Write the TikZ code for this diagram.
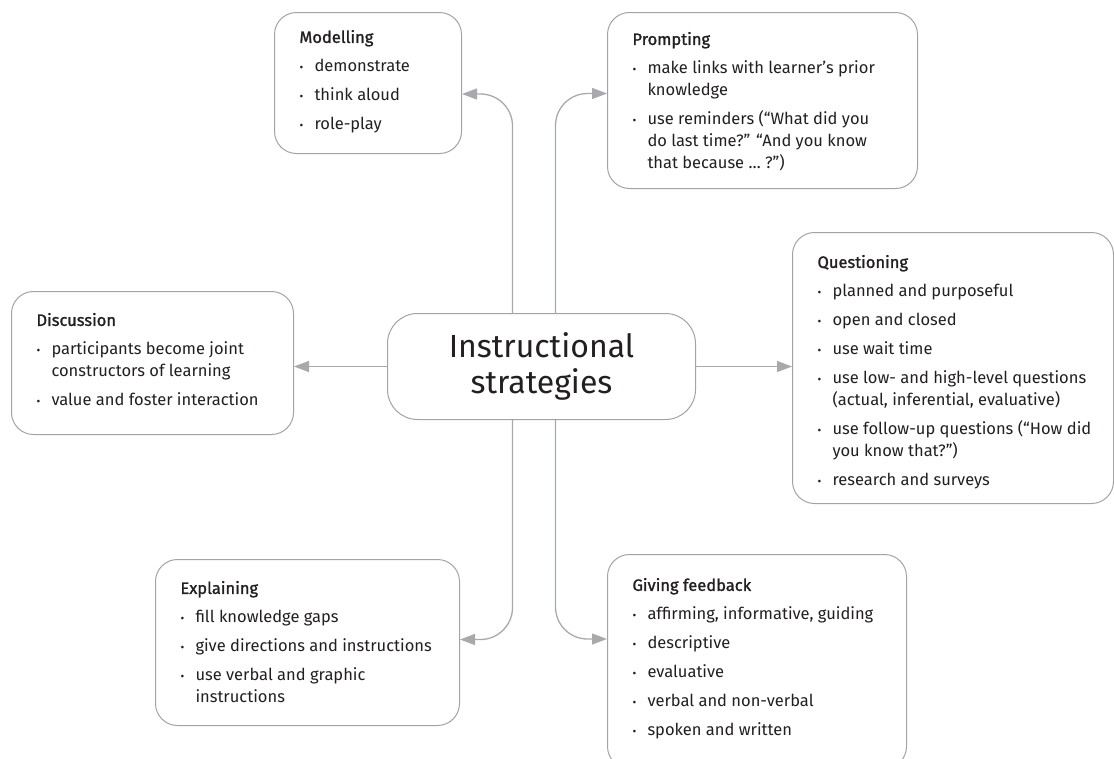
\documentclass[tikz,border=0pt]{standalone}
\usepackage{fontspec}
\setmainfont{Fira Sans}
\newfontfamily\headfont{Fira Sans}[FakeBold=1.3]
\usetikzlibrary{arrows.meta}

\definecolor{linegray}{HTML}{A7A9AC}
\definecolor{boxgray}{HTML}{A3A3A3}
\definecolor{ink}{HTML}{231F20}

\newcommand{\itm}{\par\hangindent=15pt\hangafter=1\makebox[15pt][l]{\raisebox{0.6pt}{\scalebox{0.7}{\textbullet}}}}
\newcommand{\cardtext}[5][10pt]{\parbox[t][#3][t]{#2}{\raggedright\rightskip=-30pt plus 1fil
  \setlength{\parskip}{7pt}\vspace*{#1}\strut{\headfont #4}#5}}

\begin{document}
\begin{tikzpicture}[x=1pt,y=-1pt,
    card/.style={draw=boxgray, line width=1pt, rounded corners=22pt, anchor=north west,
      inner xsep=25pt, inner ysep=0pt, text=ink, font=\fontsize{16.5}{22}\selectfont},
    hub/.style={draw=boxgray, line width=1pt, rounded corners=30pt, anchor=north west,
      minimum width=308pt, minimum height=106pt, align=center, text=ink,
      font=\fontsize{32}{36}\selectfont},
    conn/.style={draw=linegray, line width=1.3pt, rounded corners=32pt,
      -{Triangle[length=15pt,width=11pt]}}]
    \path[use as bounding box, fill=white] (0,0) rectangle (1114,758);

    \node[hub] (ctr) at (387,313) {Instructional\\strategies};

    \node[card] (model) at (274,12) {\cardtext[8pt]{137pt}{141pt}{Modelling}{%
      \itm demonstrate
      \itm think aloud
      \itm role-play}};
    \node[card] (prompt) at (607,12) {\cardtext[10pt]{260pt}{176pt}{Prompting}{%
      \itm make links with learner’s prior\newline knowledge
      \itm use reminders (“What did you\newline do last time?” “And you know\newline that because … ?”)}};
    \node[card] (quest) at (792,232) {\cardtext[13pt]{271pt}{271pt}{Questioning}{%
      \itm planned and purposeful
      \itm open and closed
      \itm use wait time
      \itm use low- and high-level questions\newline (actual, inferential, evaluative)
      \itm use follow-up questions (“How did\newline you know that?”)
      \itm research and surveys}};
    \node[card] (disc) at (11,291) {\cardtext[12pt]{232pt}{143pt}{Discussion}{%
      \itm participants become joint\newline constructors of learning
      \itm value and foster interaction}};
    \node[card] (expl) at (155,559) {\cardtext[12pt]{254pt}{166pt}{Explaining}{%
      \itm fill knowledge gaps
      \itm give directions and instructions
      \itm use verbal and graphic\newline instructions}};
    \node[card] (fb) at (607,554) {\cardtext[14pt]{249pt}{214pt}{Giving feedback}{%
      \itm affirming, informative, guiding
      \itm descriptive
      \itm evaluative
      \itm verbal and non-verbal
      \itm spoken and written}};

    \draw[conn] (ctr.west) -- (disc.east |- ctr.west);
    \draw[conn] (ctr.east) -- (quest.west |- ctr.east);
    \draw[conn] ([xshift=-29pt]ctr.north) |- ([yshift=-11pt]model.east);
    \draw[conn] ([xshift=14pt]ctr.north) |- ([yshift=7pt]prompt.west);
    \draw[conn] ([xshift=-29pt]ctr.south) |- ([yshift=3pt]expl.east);
    \draw[conn] ([xshift=14pt]ctr.south) |- ([yshift=-85pt]fb.north west);
\end{tikzpicture}
\end{document}
